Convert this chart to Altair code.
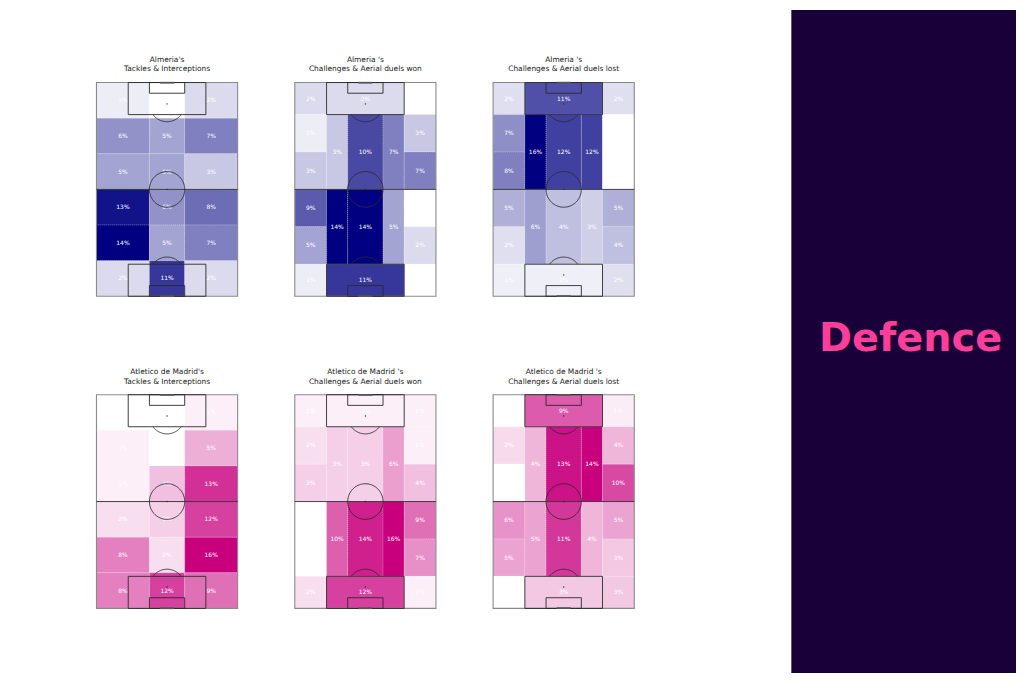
import altair as alt
import pandas as pd
import numpy as np

# ---------------- data ----------------
TITLES = [
    ["Almeria's", "Tackles & Interceptions"],
    ["Almeria 's", "Challenges & Aerial duels won"],
    ["Almeria 's", "Challenges & Aerial duels lost"],
    ["Atletico de Madrid's", "Tackles & Interceptions"],
    ["Atletico de Madrid 's", "Challenges & Aerial duels won"],
    ["Atletico de Madrid 's", "Challenges & Aerial duels lost"],
]

# Tackles & Interceptions: 3 columns x 6 rows (rows listed top -> bottom, columns left -> right)
alm_ti = [[1, 0, 2], [6, 5, 7], [5, 5, 3], [13, 6, 8], [14, 5, 7], [2, 11, 2]]
atm_ti = [[0, 0, 1], [1, 0, 5], [1, 4, 13], [2, 3, 12], [8, 2, 16], [8, 12, 9]]

# Positional zones (20), order:
# top: L-wide, box, R-wide | upper half: Lw-up, Lw-low, L-half, centre, R-half, Rw-up, Rw-low
# lower half: Lw-up, Lw-low, L-half, centre, R-half, Rw-up, Rw-low | bottom: L-wide, box, R-wide
alm_won = [2, 2, 0, 1, 3, 3, 10, 7, 3, 7, 9, 5, 14, 14, 5, 0, 2, 1, 11, 0]
alm_lost = [2, 11, 2, 7, 8, 16, 12, 12, 0, 0, 5, 2, 6, 4, 3, 5, 4, 1, 1, 2]
atm_won = [1, 1, 1, 2, 3, 3, 3, 6, 1, 4, 0, 0, 10, 14, 16, 9, 7, 2, 12, 1]
atm_lost = [0, 9, 1, 2, 0, 4, 13, 14, 4, 10, 6, 5, 5, 11, 4, 5, 3, 0, 3, 3]

ALM_COLOR = "#000080"
ATM_COLOR = "#c8007e"

# ---------------- pitch geometry (StatsBomb 120 x 80, vertical) ----------------
L, W = 120, 80
GRID_X = [0, 30, 50, 80]
GRID_Y = [120, 100, 80, 60, 40, 20, 0]
POS_ZONES = [
    (0, 18, 102, 120), (18, 62, 102, 120), (62, 80, 102, 120),
    (0, 18, 81, 102), (0, 18, 60, 81), (18, 30, 60, 102), (30, 50, 60, 102),
    (50, 62, 60, 102), (62, 80, 81, 102), (62, 80, 60, 81),
    (0, 18, 39, 60), (0, 18, 18, 39), (18, 30, 18, 60), (30, 50, 18, 60),
    (50, 62, 18, 60), (62, 80, 39, 60), (62, 80, 18, 39),
    (0, 18, 0, 18), (18, 62, 0, 18), (62, 80, 0, 18),
]


def grid_df(vals):
    rows = []
    for i, row in enumerate(vals):
        for j, v in enumerate(row):
            x0, x1 = GRID_X[j], GRID_X[j + 1]
            y1, y0 = GRID_Y[i], GRID_Y[i + 1]
            rows.append(dict(x0=x0, x1=x1, y0=y0, y1=y1, xc=(x0 + x1) / 2,
                             yc=(y0 + y1) / 2, value=v, label=f"{v}%"))
    return pd.DataFrame(rows)


def pos_df(vals):
    rows = []
    for (x0, x1, y0, y1), v in zip(POS_ZONES, vals):
        rows.append(dict(x0=x0, x1=x1, y0=y0, y1=y1, xc=(x0 + x1) / 2,
                         yc=(y0 + y1) / 2, value=v, label=f"{v}%"))
    return pd.DataFrame(rows)


def arc_points(cx, cy, r, a0, a1, grp, n=60):
    t = np.linspace(a0, a1, n)
    return pd.DataFrame(dict(x=cx + r * np.cos(t), y=cy + r * np.sin(t),
                             grp=grp, ord=np.arange(n)))


inner_rects = pd.DataFrame(dict(
    x0=[18, 18, 30, 30], x1=[62, 62, 50, 50],
    y0=[102, 0, 114, 0], y1=[120, 18, 120, 6]))
outline = pd.DataFrame(dict(x0=[0], x1=[80], y0=[0], y1=[120]))
goals = pd.DataFrame(dict(x0=[36, 36], x1=[44, 44], y0=[119.4, -0.4], y1=[120.4, 0.6]))
halfway = pd.DataFrame(dict(x0=[0], x1=[80], y=[60]))
a = np.arcsin(0.6)
curves = pd.concat([
    arc_points(40, 60, 10, 0, 2 * np.pi, "c", 120),
    arc_points(40, 108, 10, -np.pi + a, -a, "t"),
    arc_points(40, 12, 10, a, np.pi - a, "b"),
])
spots = pd.DataFrame(dict(x=[40, 40, 40], y=[108, 12, 60]))

XS = alt.Scale(domain=[0, W], nice=False, zero=False)
YS = alt.Scale(domain=[0, L], nice=False, zero=False)
LINE = "#2b2b2b"
PW, PH = 142, 215


def panel(df, title, color):
    vmax = float(df["value"].max())
    heat = alt.Chart(df).mark_rect(stroke="white", strokeWidth=0.3, strokeDash=[1, 1]).encode(
        x=alt.X("x0:Q", scale=XS, axis=None), x2="x1:Q",
        y=alt.Y("y0:Q", scale=YS, axis=None), y2="y1:Q",
        color=alt.Color("value:Q",
                        scale=alt.Scale(domain=[0, vmax], range=["#ffffff", color],
                                        interpolate="rgb"),
                        legend=None),
    )
    labels = alt.Chart(df).mark_text(color="white", fontSize=6, font="DejaVu Sans").encode(
        x=alt.X("xc:Q", scale=XS, axis=None), y=alt.Y("yc:Q", scale=YS, axis=None),
        text="label:N")
    rects = alt.Chart(inner_rects).mark_rect(fillOpacity=0, stroke=LINE, strokeWidth=0.9).encode(
        x=alt.X("x0:Q", scale=XS, axis=None), x2="x1:Q",
        y=alt.Y("y0:Q", scale=YS, axis=None), y2="y1:Q")
    out = alt.Chart(outline).mark_rect(fillOpacity=0, stroke="#8a8a8a", strokeWidth=1.1).encode(
        x=alt.X("x0:Q", scale=XS, axis=None), x2="x1:Q",
        y=alt.Y("y0:Q", scale=YS, axis=None), y2="y1:Q")
    gl = alt.Chart(goals).mark_rect(color="#555555").encode(
        x=alt.X("x0:Q", scale=XS, axis=None), x2="x1:Q",
        y=alt.Y("y0:Q", scale=YS, axis=None), y2="y1:Q")
    hw = alt.Chart(halfway).mark_rule(color=LINE, strokeWidth=0.9).encode(
        x=alt.X("x0:Q", scale=XS, axis=None), x2="x1:Q",
        y=alt.Y("y:Q", scale=YS, axis=None))
    cv = alt.Chart(curves).mark_line(color=LINE, strokeWidth=0.9).encode(
        x=alt.X("x:Q", scale=XS, axis=None), y=alt.Y("y:Q", scale=YS, axis=None),
        detail="grp:N", order="ord:Q")
    sp = alt.Chart(spots).mark_circle(color=LINE, size=2, opacity=1).encode(
        x=alt.X("x:Q", scale=XS, axis=None), y=alt.Y("y:Q", scale=YS, axis=None))
    return alt.layer(heat, labels, out, rects, hw, cv, sp, gl).properties(
        width=PW, height=PH,
        title=alt.TitleParams(text=title, fontSize=7.5, font="DejaVu Sans", fontWeight="normal",
                              color="#222222", lineHeight=9.5, offset=9, anchor="middle"),
    )


def spacer(w, h):
    return alt.Chart(pd.DataFrame({"a": [0]})).mark_rect(opacity=0).encode(
        x=alt.value(0), x2=alt.value(w), y=alt.value(0), y2=alt.value(h)
    ).properties(width=w, height=h)


p = [
    panel(grid_df(alm_ti), TITLES[0], ALM_COLOR),
    panel(pos_df(alm_won), TITLES[1], ALM_COLOR),
    panel(pos_df(alm_lost), TITLES[2], ALM_COLOR),
    panel(grid_df(atm_ti), TITLES[3], ATM_COLOR),
    panel(pos_df(atm_won), TITLES[4], ATM_COLOR),
    panel(pos_df(atm_lost), TITLES[5], ATM_COLOR),
]

row1 = alt.hconcat(p[0], p[1], p[2], spacing=55.5).resolve_scale(color="independent")
row2 = alt.hconcat(p[3], p[4], p[5], spacing=55.5).resolve_scale(color="independent")
rows = alt.vconcat(row1, row2, spacing=71).resolve_scale(color="independent")
left_block = alt.vconcat(spacer(10, 46), rows, spacing=0).resolve_scale(color="independent")

RW, RH = 226, 667
right_bg = alt.Chart(pd.DataFrame({"a": [0]})).mark_rect(color="#1a0038").encode(
    x=alt.value(0), x2=alt.value(RW), y=alt.value(0), y2=alt.value(RH))
right_txt = alt.Chart(pd.DataFrame({"t": ["Defence"]})).mark_text(
    font="DejaVu Sans", fontWeight="bold", fontSize=40, color="#ff3e9a", align="center",
    baseline="middle").encode(text="t:N", x=alt.value(120), y=alt.value(331))
right = alt.layer(right_bg, right_txt).properties(width=RW, height=RH)

chart = alt.hconcat(spacer(88, 10), left_block, spacer(157, 10), right, spacing=0).resolve_scale(
    color="independent"
).properties(padding=0, background="white").configure_view(stroke=None)

chart.save("out.html", embed_options={"renderer": "svg", "actions": False})
